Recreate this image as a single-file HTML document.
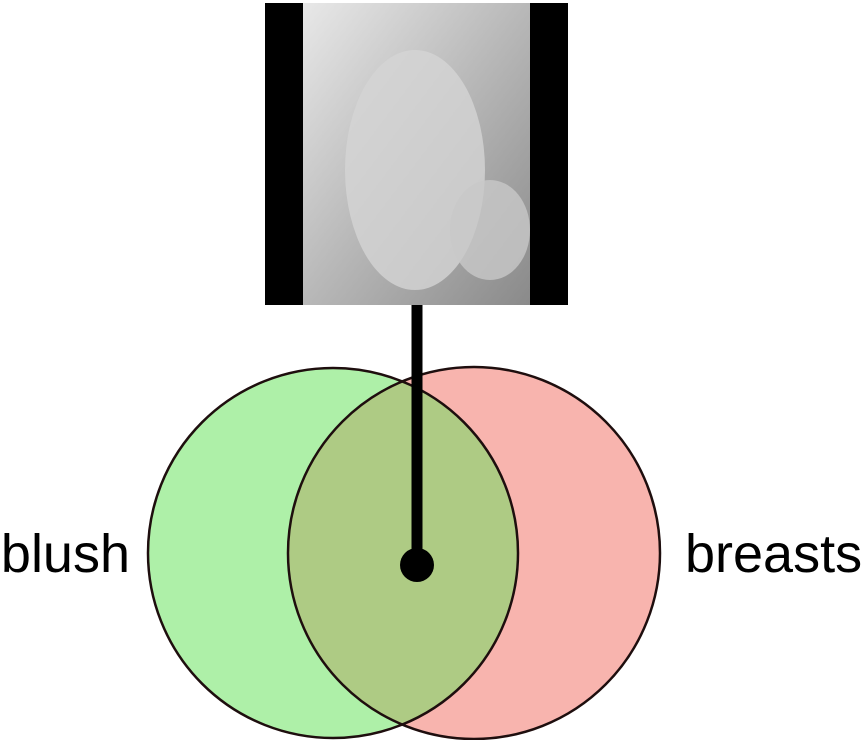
<!DOCTYPE html>
<html>
<head>
<meta charset="utf-8">
<style>
html,body{margin:0;padding:0;background:#fff;}
body{width:868px;height:740px;overflow:hidden;}
svg{display:block;}
text{font-family:"Liberation Sans",sans-serif;}
</style>
</head>
<body>
<svg id="chart" width="868" height="740" viewBox="0 0 868 740" xmlns="http://www.w3.org/2000/svg">
  <defs>
    <linearGradient id="imgGrad" x1="0" y1="0" x2="1" y2="1">
      <stop offset="0" stop-color="#e8e8e8"/>
      <stop offset="0.5" stop-color="#b8b8b8"/>
      <stop offset="1" stop-color="#8a8a8a"/>
    </linearGradient>
  </defs>
  <g id="image">
    <rect x="265" y="3" width="303" height="302" fill="#000"/>
    <rect x="303" y="3" width="227" height="302" fill="url(#imgGrad)"/>
    <ellipse cx="415" cy="170" rx="70" ry="120" fill="#d4d4d4" opacity="0.8"/>
    <ellipse cx="490" cy="230" rx="40" ry="50" fill="#c8c8c8" opacity="0.8"/>
  </g>
  <g id="venn"></g>
</svg>
<script>
const setLabels = ["blush", "breasts"];
const setCenters = [333, 474];
const setRadii = [185, 186];
const centerY = 553;
const fills = ["#aef0a8", "#f8b4ae"];
const overlapFill = "#aecb84";

const NS = "http://www.w3.org/2000/svg";
const g = document.getElementById("venn");
const svg = document.getElementById("chart");

function mk(tag, attrs){
  const el = document.createElementNS(NS, tag);
  for (const k in attrs) el.setAttribute(k, attrs[k]);
  return el;
}

const defs = svg.querySelector("defs");
const cp = mk("clipPath", {id:"clipLeft"});
cp.appendChild(mk("circle", {cx:setCenters[0], cy:centerY, r:setRadii[0]}));
defs.appendChild(cp);

for (let i = 0; i < setLabels.length; i++){
  const c = mk("circle", {cx:setCenters[i], cy:centerY, r:setRadii[i], fill:fills[i], stroke:"none"});
  
  
  g.appendChild(c);
}
const ov = mk("circle", {cx:setCenters[1], cy:centerY, r:setRadii[1], fill:overlapFill, "clip-path":"url(#clipLeft)"});


g.appendChild(ov);
for (let i = 0; i < setLabels.length; i++){
  const c = mk("circle", {cx:setCenters[i], cy:centerY, r:setRadii[i], fill:"none", stroke:"#1e0e0e", "stroke-width":2.5});
  
  
  g.appendChild(c);
}

const l0 = mk("text", {x:setCenters[0]-setRadii[0]-18, y:centerY+19, "font-size":54, "text-anchor":"end", fill:"#000"});
l0.textContent = setLabels[0];


g.appendChild(l0);
const l1 = mk("text", {x:setCenters[1]+setRadii[1]+25, y:centerY+19, "font-size":54, "text-anchor":"start", fill:"#000"});
l1.textContent = setLabels[1];


g.appendChild(l1);

const line = mk("line", {x1:417, y1:305, x2:417, y2:565, stroke:"#000", "stroke-width":11});


g.appendChild(line);
const dot = mk("circle", {cx:417, cy:565, r:17, fill:"#000"});


g.appendChild(dot);
</script>
</body>
</html>
